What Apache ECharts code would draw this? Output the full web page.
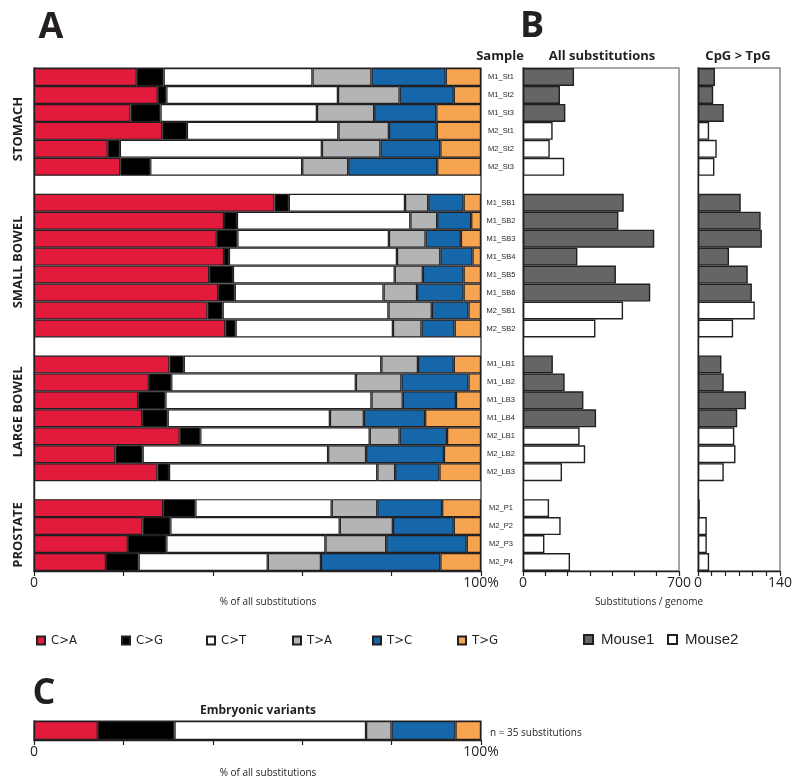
<!DOCTYPE html>
<html><head><meta charset="utf-8">
<script src="https://cdn.jsdelivr.net/npm/echarts@6/dist/echarts.min.js"></script>
<style>html,body{margin:0;padding:0;background:#fff}#c{width:800px;height:784px}</style>
</head><body><div id="c"></div>
<script>
// ---------- data ----------
const tissues = ['STOMACH', 'SMALL BOWEL', 'LARGE BOWEL', 'PROSTATE'];
const tissueSizes = [6, 8, 7, 4];
const samples = ['M1_St1','M1_St2','M1_St3','M2_St1','M2_St2','M2_St3',
  'M1_SB1','M1_SB2','M1_SB3','M1_SB4','M1_SB5','M1_SB6','M2_SB1','M2_SB2',
  'M1_LB1','M1_LB2','M1_LB3','M1_LB4','M2_LB1','M2_LB2','M2_LB3',
  'M2_P1','M2_P2','M2_P3','M2_P4'];
const types = ['C>A', 'C>G', 'C>T', 'T>A', 'T>C', 'T>G'];
const CA = [23.0,27.7,21.6,28.7,16.5,19.3, 53.8,42.5,40.9,42.5,39.2,41.2,38.8,42.8, 30.3,25.7,23.3,24.2,32.6,18.2,27.6, 28.9,24.3,21.0,16.1];
const CG = [6.0,1.9,6.7,5.5,2.7,6.7, 3.2,2.9,4.6,1.1,5.3,3.7,3.4,2.3, 3.2,5.0,6.1,5.7,4.6,6.1,2.6, 7.2,6.2,8.6,7.3];
const CT = [33.3,38.4,35.0,33.9,45.2,34.0, 26.0,38.8,33.9,37.6,36.2,33.3,37.1,35.2, 44.2,41.3,46.1,36.3,37.9,41.5,46.6, 30.5,37.9,35.6,28.9];
const TA = [13.2,13.8,12.8,11.3,13.1,10.3, 5.2,6.0,8.2,9.7,6.3,7.5,9.7,6.4, 8.2,10.2,7.0,7.6,6.7,8.5,4.0, 10.2,11.9,13.6,11.9];
const TC = [16.6,12.1,13.9,10.7,13.4,19.9, 7.9,7.6,7.9,7.2,9.1,10.4,8.2,7.4, 8.0,15.0,11.9,13.7,10.6,17.4,9.9, 14.5,13.6,18.0,26.7];
const TG = [7.9,6.1,10.0,9.9,9.1,9.8, 3.9,2.2,4.5,1.9,3.9,3.9,2.8,5.9, 6.1,2.8,5.6,12.5,7.6,8.3,9.3, 8.7,6.1,3.2,9.1];
const allSubs = [229,166,190,133,120,185, 452,428,589,244,417,571,449,325, 134,187,271,328,254,279,175, 117,169,96,211];
const cpgTpg = [29,26,44,19,32,28, 73,107,109,53,85,92,97,60, 40,44,82,67,62,64,44, 3,15,15,19];
const embryonicCounts = [5, 6, 15, 2, 5, 2];
const typeColors = ['#e21b3c', '#000000', '#ffffff', '#b2b4b5', '#1666aa', '#f7a451'];
const mouseNames = ['Mouse1', 'Mouse2'];
const mouseColors = ['#646567', '#ffffff'];

// ---------- rows (samples with blank rows between tissues) ----------
const rows = [];
let k = 0;
tissueSizes.forEach((n, g) => {
  for (let i = 0; i < n; i++) { rows.push({ name: samples[k], idx: k }); k++; }
  if (g < tissueSizes.length - 1) rows.push({ name: 'gap' + g, idx: -1 });
});
const rowNames = rows.map(r => r.name);
const typeValues = [CA, CG, CT, TA, TC, TG];
const embTotal = embryonicCounts.reduce((a, b) => a + b, 0);

const INK = '#231f20';
const border = { borderColor: INK, borderWidth: 1.2 };

const series = [];
types.forEach((t, i) => {
  series.push({
    name: t, type: 'bar', stack: 'A', xAxisIndex: 0, yAxisIndex: 0,
    barCategoryGap: '0%',
    itemStyle: Object.assign({ color: typeColors[i] }, border),
    data: rows.map(r => r.idx < 0 ? null : typeValues[i][r.idx])
  });
});
types.forEach((t, i) => {
  series.push({
    name: t, type: 'bar', stack: 'C', xAxisIndex: 3, yAxisIndex: 3,
    barCategoryGap: '0%',
    itemStyle: Object.assign({ color: typeColors[i] }, border),
    data: [embryonicCounts[i] / embTotal * 100]
  });
});
[[allSubs, 1], [cpgTpg, 2]].forEach(([vals, ax]) => {
  mouseNames.forEach((m, mi) => {
    const pre = 'M' + (mi + 1) + '_';
    series.push({
      name: m, type: 'bar', stack: 'B' + ax, xAxisIndex: ax, yAxisIndex: ax,
      barCategoryGap: '0%',
      itemStyle: { color: mouseColors[mi], borderColor: INK, borderWidth: 1.4 },
      data: rows.map(r => (r.idx >= 0 && r.name.startsWith(pre)) ? vals[r.idx] : null)
    });
  });
});

const tickFont = { fontFamily: 'Open Sans', fontSize: 14, color: INK };
function xAx(grid, max, interval, lastLabel) {
  return {
    type: 'value', gridIndex: grid, min: 0, max: max, interval: interval,
    axisLine: { show: true, lineStyle: { color: INK, width: 1.4 } },
    axisTick: { show: true, length: 5, lineStyle: { color: INK, width: 1.2 } },
    splitLine: { show: false },
    axisLabel: Object.assign({
      margin: 5, showMinLabel: true, showMaxLabel: true,
      formatter: v => (Math.abs(v) < 1e-9 ? '0' : (Math.abs(v - max) < 1e-6 ? lastLabel : ''))
    }, tickFont)
  };
}
function yAx(grid, data, labels) {
  return {
    type: 'category', gridIndex: grid, data: data, inverse: true,
    axisLine: { show: true, lineStyle: { color: INK, width: 1.4 } },
    axisTick: { show: false },
    axisLabel: labels ? {
      show: true, interval: 0, align: 'center', margin: 22,
      fontFamily: 'Liberation Sans', fontSize: 7.5, color: INK,
      formatter: v => v.startsWith('gap') ? '' : v
    } : { show: false }
  };
}

const boldFont = 'Open Sans';
const graphic = [
  { type: 'text', x: 51, y: 28, style: { text: 'A', fontFamily: boldFont, fontWeight: 'bold', fontSize: 36, fill: INK, align: 'center', verticalAlign: 'middle' } },
  { type: 'text', x: 532, y: 27, style: { text: 'B', fontFamily: boldFont, fontWeight: 'bold', fontSize: 36, fill: INK, align: 'center', verticalAlign: 'middle' } },
  { type: 'text', x: 44, y: 694, style: { text: 'C', fontFamily: boldFont, fontWeight: 'bold', fontSize: 36, fill: INK, align: 'center', verticalAlign: 'middle' } },
  { type: 'text', x: 500, y: 56, style: { text: 'Sample', fontFamily: boldFont, fontWeight: 'bold', fontSize: 13, fill: INK, align: 'center', verticalAlign: 'middle' } },
  { type: 'text', x: 602, y: 56, style: { text: 'All substitutions', fontFamily: boldFont, fontWeight: 'bold', fontSize: 13, fill: INK, align: 'center', verticalAlign: 'middle' } },
  { type: 'text', x: 738, y: 56, style: { text: 'CpG > TpG', fontFamily: boldFont, fontWeight: 'bold', fontSize: 13, fill: INK, align: 'center', verticalAlign: 'middle' } },
  { type: 'text', x: 268, y: 602, style: { text: '% of all substitutions', fontFamily: 'Open Sans', fontSize: 10, fill: INK, align: 'center', verticalAlign: 'middle' } },
  { type: 'text', x: 649, y: 602, style: { text: 'Substitutions / genome', fontFamily: 'Open Sans', fontSize: 10, fill: INK, align: 'center', verticalAlign: 'middle' } },
  { type: 'text', x: 258, y: 711, style: { text: 'Embryonic variants', fontFamily: boldFont, fontWeight: 'bold', fontSize: 12, fill: INK, align: 'center', verticalAlign: 'middle' } },
  { type: 'text', x: 490, y: 733, style: { text: 'n = ' + embTotal + ' substitutions', fontFamily: 'Open Sans', fontSize: 10, fill: INK, align: 'left', verticalAlign: 'middle' } },
  { type: 'text', x: 268, y: 773, style: { text: '% of all substitutions', fontFamily: 'Open Sans', fontSize: 10, fill: INK, align: 'center', verticalAlign: 'middle' } }
];
const tissueCenters = [129, 262, 412, 535];
tissues.forEach((t, i) => {
  graphic.push({ type: 'text', x: 18, y: tissueCenters[i], rotation: Math.PI / 2,
    style: { text: t, fontFamily: boldFont, fontWeight: 'bold', fontSize: 13, fill: INK, align: 'center', verticalAlign: 'middle' } });
});

// legends: one component per entry so each sits at its own slot
const typeLegendLeft = [36, 121, 206, 292, 372, 457];
const mouseLegendLeft = [583, 667];
const legends = [];
types.forEach((t, i) => legends.push({
  data: [t], left: typeLegendLeft[i], top: 634, icon: 'rect', itemWidth: 8, itemHeight: 8,
  selectedMode: false, padding: 0,
  textStyle: { fontFamily: 'Liberation Sans Narrow, DejaVu Sans Condensed, Liberation Sans', fontSize: 13, color: INK, padding: [0, 0, 0, 1] }
}));
mouseNames.forEach((m, i) => legends.push({
  data: [m], left: mouseLegendLeft[i], top: 632, icon: 'rect', itemWidth: 9, itemHeight: 9,
  selectedMode: false, padding: 0,
  textStyle: { fontFamily: 'Liberation Sans', fontSize: 15, color: INK, padding: [0, 0, 0, 3] }
}));

const option = {
  animation: false,
  backgroundColor: '#fff',
  grid: [
    { left: 34, top: 68, width: 447, height: 503, show: true, borderColor: INK, borderWidth: 1.2, backgroundColor: 'transparent' },
    { left: 523, top: 68, width: 156, height: 503, show: true, borderColor: '#8a8a8a', borderWidth: 1.5, backgroundColor: 'transparent' },
    { left: 698, top: 68, width: 82, height: 503, show: true, borderColor: '#8a8a8a', borderWidth: 1.5, backgroundColor: 'transparent' },
    { left: 34, top: 721, width: 447, height: 19, show: true, borderColor: INK, borderWidth: 1.2, backgroundColor: 'transparent' }
  ],
  xAxis: [
    xAx(0, 100, 20, '100%'),
    xAx(1, 700, 100, '700'),
    xAx(2, 140, 140 / 6, '140'),
    xAx(3, 100, 20, '100%')
  ],
  yAxis: [
    yAx(0, rowNames, false),
    yAx(1, rowNames, true),
    yAx(2, rowNames, false),
    yAx(3, ['Embryonic variants'], false)
  ],
  legend: legends,
  graphic: graphic,
  series: series
};
const chart = echarts.init(document.getElementById('c'), null, { renderer: 'canvas' });
chart.setOption(option);
</script></body></html>
